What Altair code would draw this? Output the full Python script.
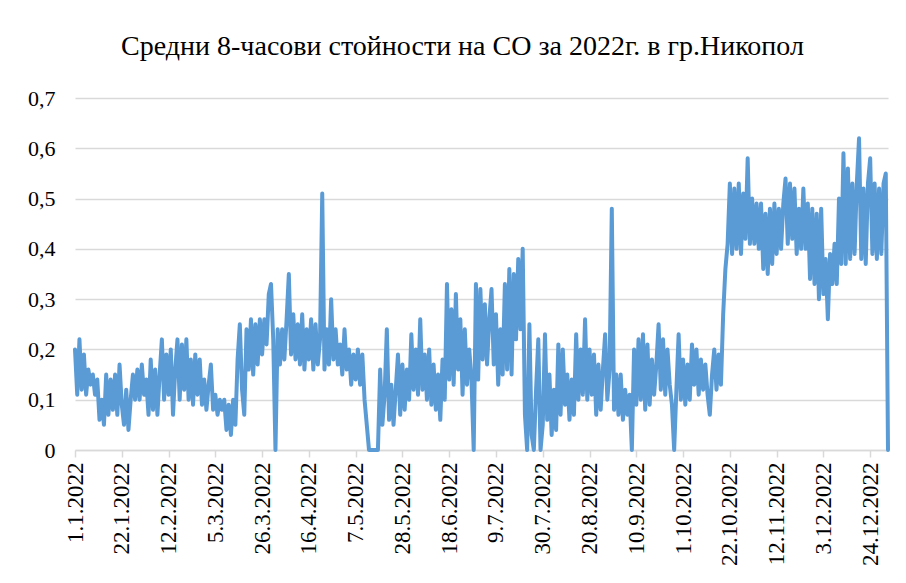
import altair as alt
import pandas as pd

title_text = "Средни 8-часови стойности на СО за 2022г. в гр.Никопол"

# day-of-year positions (0 = 1.1.2022) of the category labels shown on the x axis
tick_days = [0, 21, 42, 63, 84, 105, 126, 147, 168, 189, 210, 231, 252, 273, 294, 315, 336, 357]
y_ticks = [0, 0.1, 0.2, 0.3, 0.4, 0.5, 0.6, 0.7]

# CO 8-hour mean values (mg/m3), one reading per day
co_values = [
    0.20, 0.11, 0.22, 0.12, 0.19, 0.11, 0.16,
    0.13, 0.15, 0.11, 0.14, 0.06, 0.10, 0.05,
    0.15, 0.07, 0.14, 0.08, 0.15, 0.07, 0.17,
    0.09, 0.05, 0.12, 0.04, 0.10, 0.15, 0.10,
    0.16, 0.10, 0.17, 0.11, 0.14, 0.07, 0.18,
    0.08, 0.16, 0.07, 0.15, 0.22, 0.10, 0.19,
    0.11, 0.20, 0.07, 0.16, 0.22, 0.10, 0.21,
    0.12, 0.22, 0.10, 0.18, 0.09, 0.19, 0.11,
    0.18, 0.09, 0.14, 0.08, 0.13, 0.17, 0.08,
    0.11, 0.07, 0.10, 0.08, 0.10, 0.04, 0.09,
    0.03, 0.10, 0.05, 0.18, 0.25, 0.12, 0.07,
    0.24, 0.16, 0.26, 0.15, 0.25, 0.17, 0.26,
    0.19, 0.26, 0.21, 0.31, 0.33, 0.22, 0.00,
    0.24, 0.17, 0.24, 0.18, 0.26, 0.35, 0.19,
    0.27, 0.18, 0.25, 0.17, 0.27, 0.16, 0.24,
    0.18, 0.26, 0.16, 0.25, 0.17, 0.22, 0.51,
    0.16, 0.24, 0.17, 0.30, 0.18, 0.24, 0.17,
    0.21, 0.15, 0.24, 0.16, 0.20, 0.13, 0.19,
    0.14, 0.20, 0.13, 0.19, 0.10, 0.05, 0.00,
    0.00, 0.00, 0.00, 0.00, 0.16, 0.05, 0.11,
    0.24, 0.06, 0.13, 0.05, 0.12, 0.19, 0.07,
    0.17, 0.08, 0.16, 0.10, 0.23, 0.12, 0.20,
    0.11, 0.26, 0.12, 0.19, 0.10, 0.20, 0.09,
    0.17, 0.08, 0.15, 0.06, 0.18, 0.10, 0.33,
    0.14, 0.28, 0.13, 0.31, 0.16, 0.26, 0.11,
    0.24, 0.13, 0.20, 0.14, 0.00, 0.33, 0.14,
    0.32, 0.18, 0.29, 0.17, 0.26, 0.32, 0.17,
    0.27, 0.13, 0.24, 0.15, 0.33, 0.16, 0.36,
    0.15, 0.35, 0.22, 0.38, 0.24, 0.40, 0.07,
    0.00, 0.25, 0.03, 0.00, 0.12, 0.22, 0.00,
    0.05, 0.23, 0.06, 0.15, 0.03, 0.12, 0.04,
    0.21, 0.07, 0.20, 0.09, 0.15, 0.06, 0.14,
    0.07, 0.23, 0.10, 0.20, 0.11, 0.26, 0.10,
    0.20, 0.11, 0.19, 0.07, 0.17, 0.08, 0.16,
    0.23, 0.10, 0.16, 0.48, 0.08, 0.15, 0.07,
    0.15, 0.06, 0.12, 0.07, 0.11, 0.00, 0.20,
    0.09, 0.22, 0.10, 0.23, 0.08, 0.21, 0.09,
    0.18, 0.11, 0.17, 0.25, 0.12, 0.22, 0.11,
    0.20, 0.13, 0.09, 0.00, 0.12, 0.23, 0.10,
    0.18, 0.09, 0.17, 0.10, 0.21, 0.13, 0.20,
    0.11, 0.18, 0.12, 0.17, 0.11, 0.07, 0.15,
    0.20, 0.12, 0.19, 0.13, 0.27, 0.36, 0.41,
    0.53, 0.39, 0.52, 0.40, 0.53, 0.39, 0.51,
    0.42, 0.58, 0.41, 0.50, 0.41, 0.49, 0.40,
    0.49, 0.36, 0.47, 0.35, 0.48, 0.37, 0.49,
    0.39, 0.48, 0.40, 0.49, 0.54, 0.41, 0.53,
    0.42, 0.52, 0.39, 0.48, 0.40, 0.52, 0.40,
    0.49, 0.34, 0.48, 0.33, 0.47, 0.30, 0.48,
    0.31, 0.38, 0.26, 0.39, 0.33, 0.41, 0.33,
    0.50, 0.37, 0.59, 0.37, 0.56, 0.38, 0.53,
    0.39, 0.53, 0.62, 0.38, 0.52, 0.37, 0.53,
    0.58, 0.39, 0.53, 0.38, 0.52, 0.39, 0.53,
    0.55, 0.00,
]
days = list(range(len(co_values)))

df = pd.DataFrame({"day": days, "co": co_values})

FONT = "Liberation Serif"

chart = (
    alt.Chart(df)
    .mark_line(color="#5B9BD5", strokeWidth=4, strokeJoin="round", strokeCap="round")
    .encode(
        x=alt.X(
            "day:Q",
            scale=alt.Scale(domain=[0, 365], nice=False, zero=False),
            axis=alt.Axis(
                values=tick_days,
                labelExpr="timeFormat(datetime(2022, 0, 1 + datum.value), '%-d.%-m.%Y')",
                labelAngle=-90,
                labelFont=FONT,
                labelFontSize=23,
                labelColor="#000000",
                labelPadding=5,
                labelOverlap=False,
                grid=False,
                domainColor="#d9d9d9",
                domainWidth=1.5,
                tickColor="#d9d9d9",
                tickWidth=1.5,
                tickSize=7,
                title=None,
            ),
        ),
        y=alt.Y(
            "co:Q",
            scale=alt.Scale(domain=[0, 0.7], nice=False),
            axis=alt.Axis(
                values=y_ticks,
                labelExpr="replace(format(datum.value, '.1~f'), '.', ',')",
                labelFont=FONT,
                labelFontSize=22,
                labelColor="#000000",
                labelPadding=20,
                domain=False,
                ticks=False,
                gridColor="#d9d9d9",
                gridWidth=1.5,
                title=None,
            ),
        ),
    )
    .properties(
        width=813,
        height=352,
        autosize=alt.AutoSizeParams(type="none"),
        padding={"left": 67, "top": 90, "right": 10, "bottom": 125},
        title=alt.TitleParams(
            text=title_text,
            font=FONT,
            fontSize=28,
            fontWeight="normal",
            color="#000000",
            anchor="middle",
            frame="group",
            baseline="bottom",
            offset=36,
            dx=-19,
            dy=38,
        ),
    )
    .configure_view(stroke=None)
)

chart.save("out.html", embed_options={"renderer": "svg", "actions": False})
